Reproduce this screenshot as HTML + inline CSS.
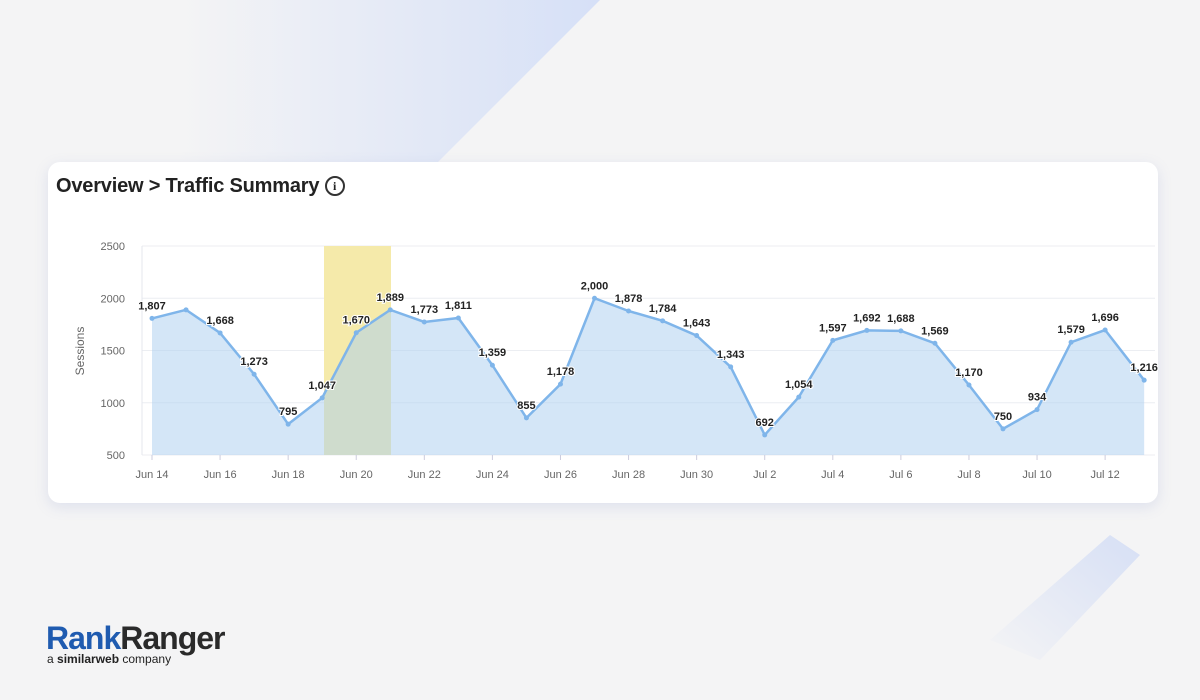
<!DOCTYPE html>
<html><head><meta charset="utf-8"><style>
body{margin:0;width:1200px;height:700px;overflow:hidden;background:#f4f4f5;font-family:"Liberation Sans",sans-serif;position:relative}
.card{position:absolute;left:48px;top:162px;width:1110px;height:341px;background:#fff;border-radius:12px;box-shadow:0 4px 14px rgba(120,140,200,0.18)}
.title{position:absolute;left:56px;top:175px;font-size:20px;font-weight:bold;color:#222;letter-spacing:-0.2px}
svg{position:absolute;left:0;top:0}
.logo{position:absolute;left:46px;top:620px;font-size:32px;font-weight:bold;letter-spacing:-1px;line-height:36px}
.sub{position:absolute;left:47px;top:652px;font-size:12px;color:#222}
</style></head><body>
<svg width="1200" height="700" style="z-index:0">
<defs><linearGradient id="g1" x1="0" y1="0" x2="1" y2="0"><stop offset="0" stop-color="#f4f4f5"/><stop offset="1" stop-color="#d6e0f7"/></linearGradient>
<linearGradient id="g2" x1="0" y1="1" x2="1" y2="0"><stop offset="0" stop-color="#f4f4f5"/><stop offset="1" stop-color="#d3ddf5"/></linearGradient></defs>
<polygon points="180,0 600,0 430,170 180,170" fill="url(#g1)"/>
<polygon points="1110,535 1140,555 1040,660 990,640" fill="url(#g2)" opacity="0.9"/>
</svg>
<div class="card"></div>
<div class="title">Overview &gt; Traffic Summary <span style="display:inline-block;width:16px;height:16px;border:2px solid #333;border-radius:50%;font-size:12px;text-align:center;line-height:16px;vertical-align:2px;font-family:'Liberation Serif',serif">i</span></div>
<svg id="c" width="1200" height="700"></svg>
<div class="logo"><span style="color:#1f5bb0">Rank</span><span style="color:#2a2a2a">Ranger</span></div>
<div class="sub">a <b>similarweb</b> company</div>
<script>
var d=[1807,1889,1668,1273,795,1047,1670,1889,1773,1811,1359,855,1178,2000,1878,1784,1643,1343,692,1054,1597,1692,1688,1569,1170,750,934,1579,1696,1216];
var lab=[1,0,1,1,1,1,1,1,1,1,1,1,1,1,1,1,1,1,1,1,1,1,1,1,1,1,1,1,1,1];
function X(i){return 152+i*34.04+(i==29?5:0)}function Y(v){return 455-(v-500)*0.1045}
var s='';
[500,1000,1500,2000,2500].forEach(function(v){s+='<line x1="142" x2="1155" y1="'+Y(v)+'" y2="'+Y(v)+'" stroke="#eceef2"/>';s+='<text x="125" y="'+(Y(v)+4)+'" text-anchor="end" font-size="11" fill="#666">'+v+'</text>';});
s+='<line x1="142" x2="142" y1="246" y2="455" stroke="#e4e7ee"/>';
s+='<rect x="324" y="246" width="67" height="209" fill="#f5eaaa"/>';
var p='';d.forEach(function(v,i){p+=X(i)+','+Y(v)+' ';});
s+='<polygon points="'+X(0)+',455 '+p+X(29)+',455" fill="#a9cdf0" fill-opacity="0.5"/>';
s+='<polyline points="'+p+'" fill="none" stroke="#7fb5ea" stroke-width="2.5"/>';
d.forEach(function(v,i){s+='<circle cx="'+X(i)+'" cy="'+Y(v)+'" r="2.5" fill="#7fb5ea"/>';
if(lab[i])s+='<text x="'+X(i)+'" y="'+(Y(v)-9)+'" text-anchor="middle" font-size="11" font-weight="bold" fill="#222" stroke="#fff" stroke-width="2" paint-order="stroke">'+v.toLocaleString('en-US')+'</text>';});
var m=['Jun 14','Jun 16','Jun 18','Jun 20','Jun 22','Jun 24','Jun 26','Jun 28','Jun 30','Jul 2','Jul 4','Jul 6','Jul 8','Jul 10','Jul 12'];
m.forEach(function(t,k){var x=X(k*2);s+='<line x1="'+x+'" x2="'+x+'" y1="455" y2="460" stroke="#ccd"/><text x="'+x+'" y="478" text-anchor="middle" font-size="11" fill="#666">'+t+'</text>';});
s+='<text transform="translate(84,351) rotate(-90)" text-anchor="middle" font-size="12" fill="#666">Sessions</text>';
document.getElementById('c').innerHTML=s;
</script>
</body></html>
